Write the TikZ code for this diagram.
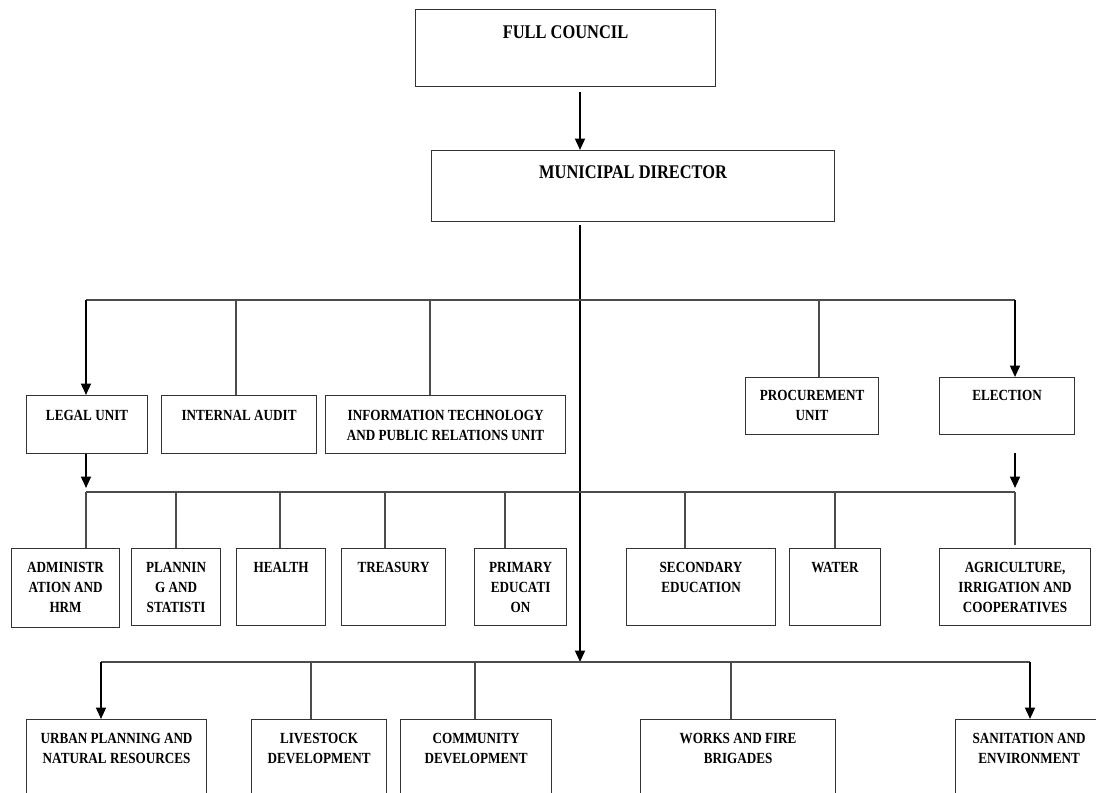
\documentclass[tikz,border=0pt]{standalone}
\usepackage{fontspec}
\setmainfont{Liberation Serif}[FakeStretch=0.85]
\usetikzlibrary{arrows.meta,calc}
\newdimen\pxu \pxu=0.2mm
\newcommand\bx[4][14]{\parbox[t][#3\pxu][t]{#2\pxu}{\centering\vspace*{#1\pxu}#4}}
\begin{document}
\begin{tikzpicture}[x=0.2mm,y=-0.2mm,
  box/.style={draw=black!80, line width=0.65pt, inner sep=0pt, anchor=north west, font=\bfseries\fontsize{8.8}{11.4}\selectfont},
  bigbox/.style={box, font=\bfseries\fontsize{11}{13}\selectfont},
  link/.style={draw=black!70, line width=0.6pt},
  arr/.style={draw=black, line width=1.1pt, -{Triangle[length=2.3mm,width=2mm]}}]
\useasboundingbox (0,0) rectangle (1096,792);
\fill[white] (0,0) rectangle (1096,792);
\clip (0,0) rectangle (1096,792);

% top
\node[bigbox] (fc) at (415,9) {\bx[16]{300}{77}{FULL COUNCIL}};
\node[bigbox] (md) at (431,150) {\bx[15]{403}{71}{MUNICIPAL DIRECTOR}};

% first tier
\node[box] (legal) at (26,395) {\bx[15]{121}{58}{LEGAL UNIT}};
\node[box] (audit) at (161,395) {\bx[15]{155}{58}{INTERNAL AUDIT}};
\node[box] (it) at (325,395) {\bx[15]{240}{58}{INFORMATION TECHNOLOGY\\AND PUBLIC RELATIONS UNIT}};
\node[box] (proc) at (745,377) {\bx[13]{133}{57}{PROCUREMENT\\UNIT}};
\node[box] (elec) at (939,377) {\bx[13]{135}{57}{ELECTION}};

% second tier
\node[box] (admin) at (11,548) {\bx{108}{79}{ADMINISTR\\ATION AND\\HRM}};
\node[box] (plan) at (131,548) {\bx{89}{77}{PLANNIN\\G AND\\STATISTI}};
\node[box] (health) at (236,548) {\bx{89}{77}{HEALTH}};
\node[box] (treas) at (341,548) {\bx{104}{77}{TREASURY}};
\node[box] (prim) at (474,548) {\bx{92}{77}{PRIMARY\\EDUCATI\\ON}};
\node[box] (sec) at (626,548) {\bx{149}{77}{SECONDARY\\EDUCATION}};
\node[box] (water) at (789,548) {\bx{91}{77}{WATER}};
\node[box] (agri) at (939,548) {\bx{151}{77}{AGRICULTURE,\\IRRIGATION AND\\COOPERATIVES}};

% third tier
\node[box] (urban) at (26,719) {\bx{180}{90}{URBAN PLANNING AND\\NATURAL RESOURCES}};
\node[box] (live) at (251,719) {\bx{135}{90}{LIVESTOCK\\DEVELOPMENT}};
\node[box] (comm) at (400,719) {\bx{151}{90}{COMMUNITY\\DEVELOPMENT}};
\node[box] (works) at (640,719) {\bx{195}{90}{WORKS AND FIRE\\BRIGADES}};
\node[box] (sani) at (955,719) {\bx{147}{90}{SANITATION AND\\ENVIRONMENT}};

% main spine
\coordinate (mx) at (580,0);
\coordinate (b3m) at (580,662);
\draw[arr] ($(fc.south -| mx)+(0,5)$) -- (md.north -| mx);
\draw[arr] ($(md.south -| mx)+(0,3)$) -- (b3m);

% bus 1
\coordinate (b1a) at (86,300);
\coordinate (b1b) at (236,300);
\coordinate (b1c) at (430,300);
\coordinate (b1d) at (819,300);
\coordinate (b1e) at (1015,300);
\draw[link] (b1a) -- (b1e);
\draw[arr] (b1a) -- (b1a |- legal.north);
\draw[link] (b1b) -- (b1b |- audit.north);
\draw[link] (b1c) -- (b1c |- it.north);
\draw[link] (b1d) -- (b1d |- proc.north);
\draw[arr] (b1e) -- (b1e |- elec.north);

% bus 2
\coordinate (b2a) at (86,492);
\coordinate (b2b) at (176,492);
\coordinate (b2c) at (280,492);
\coordinate (b2d) at (385,492);
\coordinate (b2e) at (505,492);
\coordinate (b2f) at (685,492);
\coordinate (b2g) at (835,492);
\coordinate (b2h) at (1015,492);
\coordinate (ea) at (1015,453);
\draw[link] (b2a) -- (b2h);
\draw[arr] (legal.south -| b2a) -- ($(b2a)+(0,-4)$);
\draw[arr] (ea) -- ($(b2h)+(0,-4)$);
\draw[link] (b2a) -- (b2a |- admin.north);
\draw[link] (b2b) -- (b2b |- plan.north);
\draw[link] (b2c) -- (b2c |- health.north);
\draw[link] (b2d) -- (b2d |- treas.north);
\draw[link] (b2e) -- (b2e |- prim.north);
\draw[link] (b2f) -- (b2f |- sec.north);
\draw[link] (b2g) -- (b2g |- water.north);
\draw[link] (b2h) -- ($(b2h |- agri.north)+(0,-3)$);

% bus 3
\coordinate (b3a) at (101,662);
\coordinate (b3b) at (311,662);
\coordinate (b3c) at (475,662);
\coordinate (b3d) at (731,662);
\coordinate (b3e) at (1030,662);
\draw[link] (b3a) -- (b3e);
\draw[arr] (b3a) -- (b3a |- urban.north);
\draw[link] (b3b) -- (b3b |- live.north);
\draw[link] (b3c) -- (b3c |- comm.north);
\draw[link] (b3d) -- (b3d |- works.north);
\draw[arr] (b3e) -- (b3e |- sani.north);
\end{tikzpicture}
\end{document}
